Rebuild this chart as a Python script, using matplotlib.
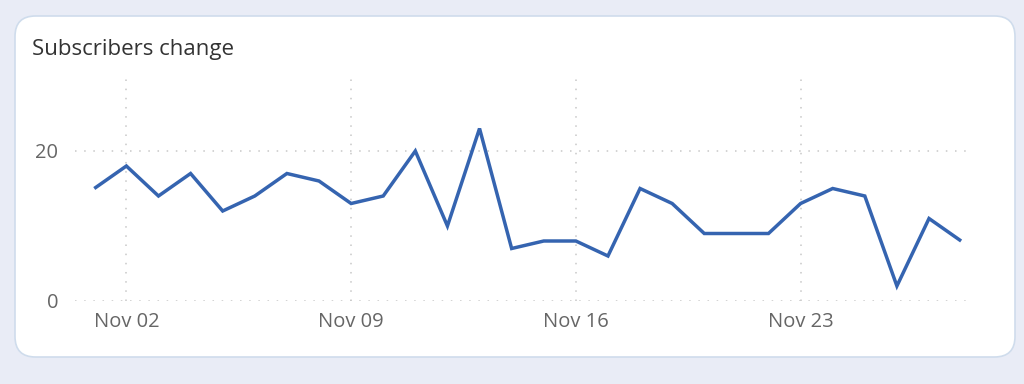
import matplotlib
matplotlib.use("Agg")
import matplotlib.pyplot as plt
import matplotlib.dates as mdates
from matplotlib.patches import FancyBboxPatch
import datetime as dt

dates = [dt.date(2024, 11, d) for d in range(1, 29)]
values = [15, 18, 14, 17, 12, 14, 17, 16, 13, 14, 20, 10, 23, 7, 8, 8, 6, 15, 13, 9, 9, 9, 13, 15, 14, 2, 11, 8]
title = "Subscribers change"
yticks = [0, 20]
xtick_dates = [dt.date(2024, 11, d) for d in (2, 9, 16, 23)]

plt.rcParams['font.family'] = ['Open Sans', 'DejaVu Sans']

W, H = 1024, 384
fig = plt.figure(figsize=(W / 100, H / 100), dpi=100)
fig.patch.set_facecolor('#e9ecf6')

card = FancyBboxPatch((15 / W, 27 / H), (1015 - 15) / W, (368 - 27) / H,
                      boxstyle="round,pad=0,rounding_size=0.02",
                      transform=fig.transFigure, facecolor='white',
                      edgecolor='#cfdcec', linewidth=1.2, mutation_aspect=W / H,
                      zorder=-10)
fig.patches.append(card)

fig.text(32 / W, 1 - 49 / H, title, fontsize=16, color='#333333', va='center', ha='left')

ax = fig.add_axes([75 / W, 1 - 301 / H, (973 - 75) / W, (301 - 76) / H])
ax.set_zorder(5)
ax.set_facecolor('none')
ax.plot(dates, values, color='#3564b0', linewidth=2.5, solid_joinstyle='miter', solid_capstyle='butt')

ax.set_ylim(0, 30)
ax.set_xlim(mdates.date2num(dt.date(2024, 10, 31)) + 0.4, mdates.date2num(dt.date(2024, 11, 28)) + 0.37)
ax.set_yticks(yticks)
ax.set_xticks(xtick_dates)
ax.xaxis.set_major_formatter(mdates.DateFormatter('%b %d'))

for s in ax.spines.values():
    s.set_visible(False)
ax.tick_params(length=0, labelsize=14.5, colors='#666666', pad=8)
ax.tick_params(axis='y', pad=12)
ax.grid(True, color='#c8c8c8', linestyle=(0, (1, 5)), linewidth=1.1)

fig.savefig('out.png', dpi=100, facecolor=fig.get_facecolor())
